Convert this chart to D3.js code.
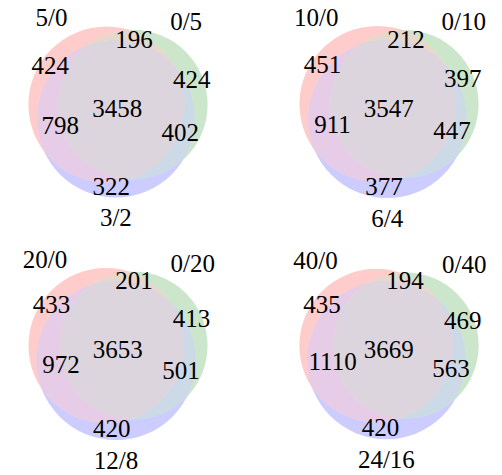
<!DOCTYPE html>
<html><head><meta charset="utf-8">
<script src="https://cdn.jsdelivr.net/npm/d3@7"></script>
<style>
body{margin:0;background:#fff}
svg{display:block}
</style>
</head><body>
<svg id="chart" width="502" height="475"></svg>
<script>
// ---- data ----
const setLabelA = ["5/0", "10/0", "20/0", "40/0"];
const setLabelB = ["0/5", "0/10", "0/20", "0/40"];
const setLabelC = ["3/2", "6/4", "12/8", "24/16"];
// subset counts per panel (A = red, B = green, C = blue)
const onlyA = [424, 451, 433, 435];
const onlyB = [424, 397, 413, 469];
const onlyAB = [196, 212, 201, 194];
const onlyC = [322, 377, 420, 420];
const onlyAC = [798, 911, 972, 1110];
const onlyBC = [402, 447, 501, 563];
const allABC = [3458, 3547, 3653, 3669];

// ---- layout / style ----
const panelCenters = [[118, 112], [389, 112], [118, 354], [389, 354]];
const boxW = 210, boxH = 210, margin = 0.1;
const setColors = [[1, 0, 0], [0, 0.5, 0], [0, 0, 1]];
const alpha = 0.2;
const fontFamily = "'Liberation Serif', 'Times New Roman', Times, serif";
const fontSize = 25;

const regions = [
  {bits: [1, 0, 0], values: onlyA},
  {bits: [0, 1, 0], values: onlyB},
  {bits: [1, 1, 0], values: onlyAB},
  {bits: [0, 0, 1], values: onlyC},
  {bits: [1, 0, 1], values: onlyAC},
  {bits: [0, 1, 1], values: onlyBC},
  {bits: [1, 1, 1], values: allABC}
];

function lensArea(r1, r2, d) {
  if (d >= r1 + r2) return 0;
  if (d <= Math.abs(r1 - r2)) return Math.PI * Math.min(r1, r2) ** 2;
  const a = r1 * r1 * Math.acos((d * d + r1 * r1 - r2 * r2) / (2 * d * r1));
  const b = r2 * r2 * Math.acos((d * d + r2 * r2 - r1 * r1) / (2 * d * r2));
  const c = 0.5 * Math.sqrt((-d + r1 + r2) * (d + r1 - r2) * (d - r1 + r2) * (d + r1 + r2));
  return a + b - c;
}
function distForArea(r1, r2, area) {
  let lo = Math.abs(r1 - r2), hi = r1 + r2;
  for (let i = 0; i < 200; i++) {
    const mid = (lo + hi) / 2;
    if (lensArea(r1, r2, mid) > area) lo = mid; else hi = mid;
  }
  return (lo + hi) / 2;
}

function layoutPanel(p) {
  const total = d3.sum(regions, r => r.values[p]);
  const setArea = i => d3.sum(regions.filter(r => r.bits[i]), r => r.values[p]) / total;
  const pairArea = (i, j) => d3.sum(regions.filter(r => r.bits[i] && r.bits[j]), r => r.values[p]) / total;
  const radii = [0, 1, 2].map(i => Math.sqrt(setArea(i) / Math.PI));
  const dab = distForArea(radii[0], radii[1], pairArea(0, 1));
  const dbc = distForArea(radii[1], radii[2], pairArea(1, 2));
  const dac = distForArea(radii[0], radii[2], pairArea(0, 2));
  const cx = (dab * dab + dac * dac - dbc * dbc) / (2 * dab);
  const cy = Math.sqrt(Math.max(0, dac * dac - cx * cx));
  const pts = [[0, 0], [dab, 0], [cx, cy]];
  return pts.map((q, i) => ({x: q[0], y: q[1], r: radii[i]}));
}

// label position: arc-length weighted mean of the region's boundary-arc midpoints
function regionLabelPos(circles, bits) {
  let sx = 0, sy = 0, sw = 0;
  const eps = 1e-9;
  circles.forEach((c, i) => {
    const N = 2880;
    const ok = [];
    for (let j = 0; j < N; j++) {
      const t = 2 * Math.PI * j / N;
      const px = c.x + c.r * Math.cos(t), py = c.y + c.r * Math.sin(t);
      let good = true;
      circles.forEach((o, k) => {
        if (k === i) return;
        const inside = Math.hypot(px - o.x, py - o.y) < o.r - eps;
        if (inside !== !!bits[k]) good = false;
      });
      ok.push(good);
    }
    if (ok.every(v => v)) return;
    for (let j = 0; j < N; j++) {
      if (ok[j] && !ok[(j - 1 + N) % N]) {
        let len = 0;
        while (ok[(j + len) % N] && len < N) len++;
        const t = 2 * Math.PI * (j + (len - 1) / 2) / N;
        const w = c.r * len;
        sx += w * (c.x + c.r * Math.cos(t));
        sy += w * (c.y + c.r * Math.sin(t));
        sw += w;
      }
    }
  });
  return [sx / sw, sy / sw];
}

const svg = d3.select("#chart");
const defs = svg.append("defs");

panelCenters.forEach((pc, p) => {
  const circles = layoutPanel(p);
  const minX = d3.min(circles, c => c.x - c.r) - margin, maxX = d3.max(circles, c => c.x + c.r) + margin;
  const minY = d3.min(circles, c => c.y - c.r) - margin, maxY = d3.max(circles, c => c.y + c.r) + margin;
  const k = Math.min(boxW / (maxX - minX), boxH / (maxY - minY));
  const midX = (minX + maxX) / 2, midY = (minY + maxY) / 2;
  const x = d3.scaleLinear().domain([midX - boxW / (2 * k), midX + boxW / (2 * k)]).range([pc[0] - boxW / 2, pc[0] + boxW / 2]);
  const y = d3.scaleLinear().domain([midY - boxH / (2 * k), midY + boxH / (2 * k)]).range([pc[1] - boxH / 2, pc[1] + boxH / 2]);
  const rs = d3.scaleLinear().domain([0, 1]).range([0, k]);

  circles.forEach((c, i) => {
    defs.append("clipPath").attr("id", `clip${p}_${i}`)
      .append("circle").attr("cx", x(c.x)).attr("cy", y(c.y)).attr("r", rs(c.r));
  });

  const g = svg.append("g");
  regions.forEach((reg, ri) => {
    const inS = [0, 1, 2].filter(i => reg.bits[i]);
    const outS = [0, 1, 2].filter(i => !reg.bits[i]);
    const mix = [0, 1, 2].map(ch => d3.mean(inS, i => setColors[i][ch]));
    const col = d3.rgb(mix[0] * 255, mix[1] * 255, mix[2] * 255);
    let node = g;
    inS.forEach(i => { node = node.append("g").attr("clip-path", `url(#clip${p}_${i})`); });
    if (outS.length) {
      const mid = `mask${p}_${ri}`;
      const m = defs.append("mask").attr("id", mid).attr("maskUnits", "userSpaceOnUse")
        .attr("x", 0).attr("y", 0).attr("width", 502).attr("height", 475);
      m.append("rect").attr("x", 0).attr("y", 0).attr("width", 502).attr("height", 475).attr("fill", "#fff");
      outS.forEach(i => {
        const c = circles[i];
        m.append("circle").attr("cx", x(c.x)).attr("cy", y(c.y)).attr("r", rs(c.r)).attr("fill", "#000");
      });
      node = node.append("g").attr("mask", `url(#${mid})`);
    }
    node.append("rect")
      .attr("x", pc[0] - boxW / 2).attr("y", pc[1] - boxH / 2)
      .attr("width", boxW).attr("height", boxH)
      .attr("fill", col).attr("fill-opacity", alpha);
  });

  const txt = sel => sel.attr("font-family", fontFamily).attr("font-size", fontSize).attr("fill", "#000");

  regions.forEach(reg => {
    const pos = regionLabelPos(circles, reg.bits);
    g.append("text").call(txt).attr("x", x(pos[0])).attr("y", y(pos[1]))
      .attr("text-anchor", "middle").attr("dy", "0.3em")
      .text(reg.values[p]);
  });

  const [A, B, C] = circles;
  g.append("text").call(txt).attr("x", x(A.x - A.r / 2)).attr("y", y(A.y - A.r))
    .attr("text-anchor", "end").text(setLabelA[p]);
  g.append("text").call(txt).attr("x", x(B.x + B.r / 2)).attr("y", y(B.y - B.r))
    .attr("text-anchor", "start").text(setLabelB[p]);
  g.append("text").call(txt).attr("x", x(C.x)).attr("y", y(C.y + C.r * 1.1))
    .attr("text-anchor", "middle").attr("dy", "0.84em").text(setLabelC[p]);
});
</script>
</body></html>
